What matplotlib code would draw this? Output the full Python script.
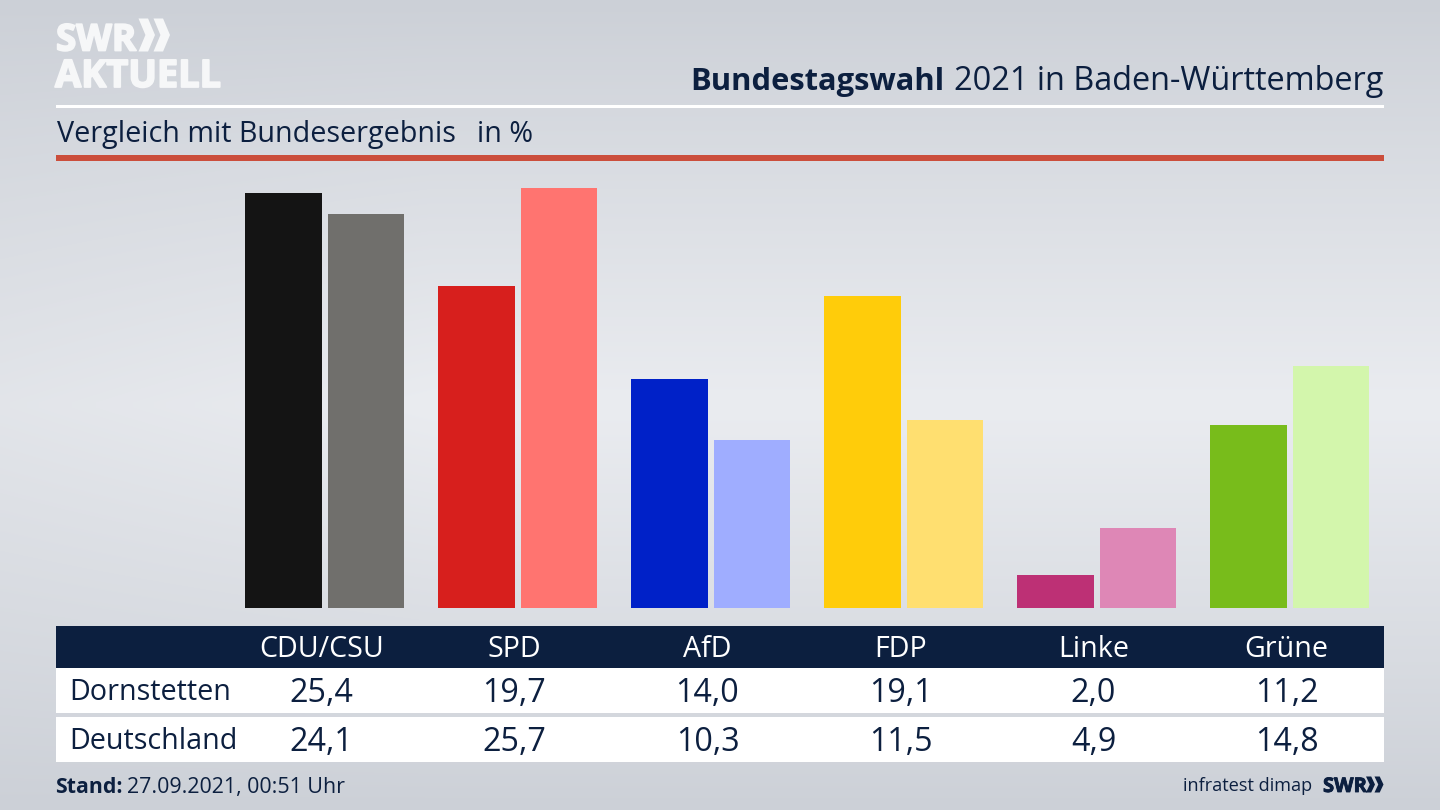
import numpy as np
import matplotlib
matplotlib.use("Agg")
import matplotlib.pyplot as plt
import matplotlib.patheffects as pe
from matplotlib.patches import Rectangle, Polygon

parties = ["CDU/CSU", "SPD", "AfD", "FDP", "Linke", "Grüne"]
local_label = "Dornstetten"
national_label = "Deutschland"
local_values = [25.4, 19.7, 14.0, 19.1, 2.0, 11.2]
national_values = [24.1, 25.7, 10.3, 11.5, 4.9, 14.8]
local_colors = ["#141414", "#d71f1d", "#0021c8", "#ffcc0a", "#bd3075", "#78bc1b"]
national_colors = ["#706f6c", "#ff7470", "#9fadff", "#ffdf70", "#de87b6", "#d3f6ac"]

NAVY = "#0c1f3f"
FONT = "Open Sans"
W, H = 1440, 810
plt.rcParams["font.family"] = [FONT, "DejaVu Sans"]

def fmt(v):
    return f"{v:.1f}".replace(".", ",")

fig = plt.figure(figsize=(14.4, 8.1), dpi=100)

# page layer in pixel coordinates
bg = fig.add_axes([0, 0, 1, 1])
bg.set_xlim(0, W); bg.set_ylim(H, 0); bg.axis("off")
yy, xx = np.mgrid[0:1:162j, 0:1:288j]
shade = np.clip(1 - np.abs(yy - 0.5) / 0.5, 0, 1) ** 0.9
side = np.clip(xx / 0.3, 0, 1) * 0.25 + 0.75
t = (shade * side)[..., None]
top = np.array([0xcc, 0xd0, 0xd7]) / 255
mid = np.array([0xea, 0xec, 0xf0]) / 255
bg.imshow(top + (mid - top) * t, extent=(0, W, H, 0), aspect="auto", zorder=0, interpolation="bilinear")
bg.set_xlim(0, W); bg.set_ylim(H, 0)

def rect(x0, y0, x1, y1, c, z=1):
    bg.add_patch(Rectangle((x0, y0), x1 - x0, y1 - y0, fc=c, ec="none", zorder=z))

def chevrons(x, y0, y1, w, gap, c):
    for i in range(2):
        xs = x + i * gap
        m = (y0 + y1) / 2
        th = w * 0.58
        bg.add_patch(Polygon([(xs, y0), (xs + th, y0), (xs + w, m), (xs + th, y1), (xs, y1), (xs + w - th, m)],
                             closed=True, fc=c, ec="none", zorder=3))

# logo
LOGO = "#f6f7f8"
heavy = [pe.withStroke(linewidth=1.3, foreground=LOGO)]
bg.text(56, 50.5, "SWR", fontsize=26.5, fontweight="bold", color=LOGO, va="baseline", ha="left",
        path_effects=heavy)
chevrons(138.5, 18.5, 51.5, 16.5, 15, LOGO)
bg.text(55, 87, "AKTUELL", fontsize=27.3, fontweight="bold", color=LOGO, va="baseline", ha="left",
        path_effects=heavy)

# header
t2 = bg.text(1383, 90, "2021 in Baden-Württemberg", fontsize=23.4, color=NAVY, ha="right", va="baseline")
fig.canvas.draw()
bb = t2.get_window_extent()
bg.text(bb.x0 - 9, 90, "Bundestagswahl", fontsize=22.2, fontweight="bold", color=NAVY, ha="right", va="baseline")
rect(56, 105, 1384, 107.5, "#ffffff")
bg.text(57, 142, "Vergleich mit Bundesergebnis", fontsize=20.7, color=NAVY, ha="left", va="baseline")
bg.text(477, 142, "in %", fontsize=20.7, color=NAVY, ha="left", va="baseline")
rect(56, 155, 1384, 160.5, "#cb4e3c")

# bars
ax = fig.add_axes([228 / W, 1 - 608 / H, (1386 - 228) / W, 424.9 / H])
ax.patch.set_alpha(0)
ax.set_xlim(-0.5, 5.5); ax.set_ylim(0, 26)
ax.axis("off")
x = np.arange(len(parties))
ax.bar(x - 0.2115, local_values, width=0.398, color=local_colors, linewidth=0)
ax.bar(x + 0.2155, national_values, width=0.398, color=national_colors, linewidth=0)

# table
rect(56, 626, 1384, 668, NAVY)
rect(56, 668, 1384, 713, "#ffffff")
rect(56, 717, 1384, 762, "#ffffff")
col = lambda i: 321.5 + 193 * i
for i, p in enumerate(parties):
    bg.text(col(i), 657, p, fontsize=20.6, color="#ffffff", ha="center", va="baseline")
    bg.text(col(i), 702, fmt(local_values[i]), fontsize=23.2, color=NAVY, ha="center", va="baseline")
    bg.text(col(i), 751, fmt(national_values[i]), fontsize=23.2, color=NAVY, ha="center", va="baseline")
bg.text(69.5, 700, local_label, fontsize=20.7, color=NAVY, ha="left", va="baseline")
bg.text(69.5, 749, national_label, fontsize=20.7, color=NAVY, ha="left", va="baseline")

# footer
s = bg.text(55.5, 793, "Stand:", fontsize=15.3, fontweight="bold", color=NAVY, ha="left", va="baseline")
fig.canvas.draw()
bg.text(s.get_window_extent().x1 + 4, 793, "27.09.2021, 00:51 Uhr", fontsize=15.4, color=NAVY, ha="left", va="baseline")
bg.text(1312, 791, "infratest dimap", fontsize=13.1, color=NAVY, ha="right", va="baseline")
bg.text(1323, 792, "SWR", fontsize=14.5, fontweight="bold", color=NAVY, ha="left", va="baseline",
        path_effects=[pe.withStroke(linewidth=0.6, foreground=NAVY)])
chevrons(1366, 776.5, 792.5, 9, 8.5, NAVY)

fig.savefig("out.png", dpi=100)
